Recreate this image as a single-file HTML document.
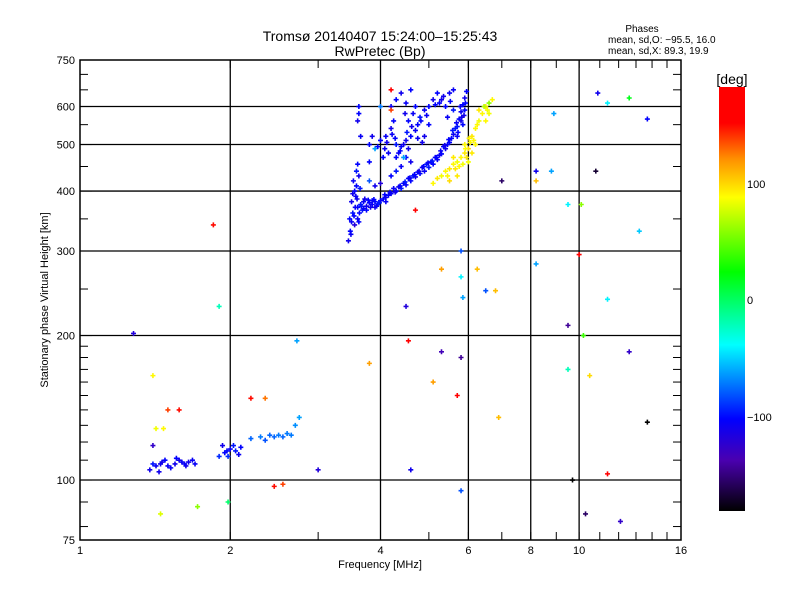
<!DOCTYPE html>
<html><head><meta charset="utf-8"><style>
body{margin:0;background:#fff;}
svg{display:block;font-family:"Liberation Sans",sans-serif;}
</style></head><body>
<svg id="chart" width="800" height="600" viewBox="0 0 800 600">
<defs><linearGradient id="cb" x1="0" y1="0" x2="0" y2="1">
<stop offset="0" stop-color="#ff0000"/><stop offset="0.085" stop-color="#ff0000"/><stop offset="0.17" stop-color="#ff9000"/><stop offset="0.26" stop-color="#ffff00"/><stop offset="0.436" stop-color="#00ff00"/><stop offset="0.608" stop-color="#00ffff"/><stop offset="0.783" stop-color="#0000ff"/><stop offset="0.88" stop-color="#4a00b0"/><stop offset="1" stop-color="#000000"/></linearGradient></defs>
<rect width="800" height="600" fill="#fff"/>
<text x="380" y="41" font-size="14" text-anchor="middle">Tromsø 20140407 15:24:00–15:25:43</text>
<text x="380" y="56" font-size="14" text-anchor="middle">RwPretec (Bp)</text>
<g font-size="10">
<text x="642" y="32" text-anchor="middle">Phases</text>
<text x="608" y="43">mean, sd,O: −95.5, 16.0</text>
<text x="608" y="54">mean, sd,X:  89.3, 19.9</text>
</g>
<g id="grid"></g>
<g id="axes"></g>
<g id="points"></g>
<text x="380" y="568" font-size="11" text-anchor="middle">Frequency [MHz]</text>
<text transform="translate(48,300) rotate(-90)" font-size="11" text-anchor="middle">Stationary phase Virtual Height [km]</text>
<g>
<text x="732" y="84" font-size="14" text-anchor="middle">[deg]</text>
<rect x="719" y="87" width="26" height="424" fill="url(#cb)"/>
<text x="747" y="188" font-size="11">100</text>
<text x="747" y="304" font-size="11">0</text>
<text x="747" y="421" font-size="11">−100</text>
</g>
</svg>
<script>
const xTickVals=[1,2,4,6,8,10,16];
const xTickLabels=["1","2","4","6","8","10","16"];
const xGridVals=[2,4,6,8,10];
const yTickVals=[75,100,200,300,400,500,600,750];
const yGridVals=[100,200,300,400,500,600];
// O-mode main trace (freq MHz, height km)
const oFreq=[3.45,3.48,3.5,3.52,3.5,3.55,3.53,3.58,3.6,3.62,3.57,3.6,3.65,3.7,3.75,3.8,3.85,3.9,3.95,4.0,4.05,4.1,4.15,4.2,4.3,4.4,4.5,4.6,4.7,4.8,4.9,5.0,5.1,5.2,5.3,5.4,5.5,5.6,5.7,5.75,5.8,5.85,5.9,5.95,3.55,3.6,3.63,3.68,3.72,3.58,4.25,4.45,4.65,4.85,5.05,5.25,5.45,5.65,5.8,5.7,5.9,5.85,4.1,3.9,4.55,5.15,5.35,3.8,3.9,4.0,4.2,4.4,4.6,4.5,4.3,3.47,3.52,3.56,3.62,3.66,3.75,3.85,4.35,4.75,4.95,5.55,5.78,5.88,3.49,3.54,3.59,3.64,3.7,3.78,3.82,3.88,3.93,3.98,4.08,4.18,4.28,4.38,4.48,4.58,4.68,4.78,4.88,4.98,5.08,5.18,5.28,5.38,5.48,5.58,5.68,5.72,5.82,5.92];
const oHeight=[315,330,345,360,380,400,420,440,455,430,390,370,375,380,372,378,375,380,376,382,385,388,392,395,400,405,412,420,428,435,440,448,455,465,478,490,505,525,545,565,585,605,625,645,340,350,360,365,385,410,405,415,430,448,460,475,500,540,560,520,590,550,380,370,425,470,495,420,410,415,430,450,460,470,440,350,395,370,345,372,365,382,408,438,455,515,600,575,325,355,385,405,368,383,370,384,372,378,393,398,398,410,418,426,433,440,450,458,462,470,485,498,512,535,555,530,570,610];
const oPhase=[-110,-100,-105,-95,-110,-100,-105,-95,-100,-110,-105,-100,-95,-105,-110,-100,-105,-100,-95,-105,-100,-110,-100,-105,-100,-95,-105,-100,-110,-100,-105,-95,-100,-105,-100,-110,-100,-105,-95,-100,-105,-100,-110,-100,-120,-105,-100,-95,-110,-100,-105,-100,-95,-110,-100,-105,-100,-95,-110,-105,-100,-100,-105,-110,-100,-105,-100,-80,-110,-120,-100,-105,-110,-100,-95,-100,-110,-105,-100,-95,-100,-105,-110,-100,-95,-100,-105,-110,-105,-100,-110,-95,-105,-100,-110,-100,-105,-95,-100,-105,-110,-100,-95,-105,-100,-110,-100,-105,-95,-100,-105,-110,-100,-95,-105,-100,-110,-100];
// Upper F cluster
const uFreq=[3.6,3.62,3.65,3.8,3.85,3.9,4.0,4.1,4.2,4.25,4.3,4.35,4.4,4.5,4.6,4.7,4.75,4.8,4.9,5.0,5.1,5.2,4.2,4.3,4.4,4.6,4.5,4.7,5.3,5.4,5.5,5.6,4.05,4.15,4.45,4.55,4.0,5.6,3.8,4.9,5.0,4.65,3.62,4.45,4.85,5.25,5.45,4.3,4.55,4.75,3.95,4.12,4.22,4.38,4.52,4.62,4.82,4.95,5.15,5.35,5.52,4.08,4.28,4.48];
const uHeight=[560,580,520,500,520,490,510,520,540,560,500,480,495,510,520,535,550,570,590,600,620,640,600,620,640,650,610,600,620,600,640,590,470,480,500,560,600,650,460,520,550,580,600,470,505,610,570,470,490,515,495,505,525,485,530,545,560,575,605,630,615,490,515,580];
const uPhase=[-110,-100,-105,-100,-110,-60,-100,-105,-110,-100,-95,-105,-100,-110,-100,-105,-100,-95,-105,-100,-110,-100,-105,-100,-110,-100,-105,-100,-110,-100,-105,-95,-100,-105,-110,-100,-70,-105,-100,-110,-100,-105,-100,-60,-110,-100,-105,-100,-110,-105,-100,-110,-105,-100,-95,-110,-100,-105,-100,-110,-100,-105,-100,-110];
// X-mode trace (yellow)
const xFreq=[5.1,5.2,5.3,5.4,5.5,5.6,5.7,5.8,5.9,6.0,6.05,6.1,6.2,6.3,6.4,6.5,6.6,6.7,6.3,6.6,6.2,5.7,5.5,6.5,6.0,5.6,5.9,6.1,5.75,5.85,5.95,6.15,6.45,5.45,5.65,5.92,6.02,6.25,6.55];
const xHeight=[415,425,430,440,445,455,460,470,480,490,505,520,540,560,580,600,610,620,590,580,500,430,420,560,460,470,500,480,450,455,470,510,600,430,445,490,515,550,590];
const xPhase=[90,95,85,90,95,90,85,90,95,100,90,95,90,85,90,95,60,90,95,85,90,95,100,90,85,95,90,95,90,85,95,90,70,90,95,88,92,90,85];
// E region traces
const eFreq=[1.38,1.42,1.45,1.5,1.55,1.6,1.65,1.7,1.48,1.58,1.52,1.63,1.4,1.68,1.44,1.56,1.9,1.95,2.0,2.05,2.1,1.93,1.98,2.03,1.97,2.08,2.2,2.3,2.4,2.5,2.55,2.6,2.7,2.75,2.35,2.45,1.46,1.62,2.65];
const eHeight=[105,107,108,107,108,109,109,108,110,110,106,107,108,110,104,111,112,114,116,115,117,118,112,118,115,113,122,123,124,124,123,125,130,135,121,123,109,108,124];
const ePhase=[-110,-105,-110,-105,-110,-105,-110,-105,-100,-110,-105,-110,-95,-105,-110,-100,-90,-100,-105,-95,-100,-110,-90,-95,-100,-105,-75,-70,-75,-70,-75,-70,-65,-60,-80,-75,-110,-105,-70];
// Scattered echoes
const sFreq=[1.4,1.42,1.47,1.5,1.58,1.4,1.72,1.45,1.98,1.85,1.9,1.28,2.2,2.35,2.45,2.55,2.72,3.0,4.6,3.8,4.55,5.3,4.5,4.2,4.7,5.8,5.8,5.7,5.8,5.85,5.8,6.25,6.5,6.8,6.9,5.3,5.1,7.0,8.2,8.2,8.2,8.8,8.9,9.5,9.5,9.7,9.5,10,10.1,10.2,10.3,10.5,10.8,10.9,11.4,11.4,11.4,12.1,12.6,12.6,13.2,13.7,13.7,4.2];
const sHeight=[118,128,128,140,140,165,88,85,90,340,230,202,148,148,97,98,195,105,105,175,195,185,230,650,365,300,265,150,95,240,180,275,248,248,135,275,160,420,440,420,282,440,580,210,375,100,170,295,375,200,85,165,440,640,610,238,103,82,185,625,330,132,565,590];
const sPhase=[-130,85,90,140,150,90,60,80,0,150,-20,-120,150,130,150,140,-60,-120,-110,120,170,-140,-120,160,160,-80,-40,160,-80,-60,-150,110,-80,110,110,120,120,-160,-110,110,-60,-60,-60,-150,-40,-180,-20,170,60,40,-160,100,-170,-110,-40,-40,170,-130,-130,20,-50,-180,-100,140];

const X0=80,X1=681,Y0=540,Y1=60;
const xs=f=>X0+(X1-X0)*Math.log2(f)/4;
const ys=h=>Y0-(Y0-Y1)*Math.log10(h/75);
const NS="http://www.w3.org/2000/svg";
function mk(tag,attrs,parent){const e=document.createElementNS(NS,tag);for(const k in attrs)e.setAttribute(k,attrs[k]);parent.appendChild(e);return e;}
const stops=[[-180,[0,0,0]],[-145,[74,0,176]],[-100,[0,0,255]],[-37,[0,255,255]],[26,[0,255,0]],[88,[255,255,0]],[125,[255,144,0]],[152,[255,0,0]],[190,[255,0,0]]];
function col(d){for(let i=0;i<stops.length-1;i++){const a=stops[i],b=stops[i+1];if(d<=b[0]){const t=Math.max(0,(d-a[0])/(b[0]-a[0]));const c=a[1].map((v,j)=>Math.round(v+(b[1][j]-v)*t));return `rgb(${c[0]},${c[1]},${c[2]})`;}}return "rgb(255,0,0)";}

const grid=document.getElementById('grid'),axes=document.getElementById('axes'),pts=document.getElementById('points');
xGridVals.forEach(v=>{const l=mk('line',{x1:xs(v),x2:xs(v),y1:Y1,y2:Y0,stroke:'#000','stroke-width':1.3},grid);});
yGridVals.forEach(v=>{const l=mk('line',{x1:X0,x2:X1,y1:ys(v),y2:ys(v),stroke:'#000','stroke-width':1.3},grid);});
const fr=mk('rect',{x:X0,y:Y1,width:X1-X0,height:Y0-Y1,fill:'none',stroke:'#000','stroke-width':1.5},axes);

for(let f=1;f<=16;f++){const x=xs(f);mk('line',{x1:x,x2:x,y1:Y0,y2:Y0-8,stroke:'#000'},axes);mk('line',{x1:x,x2:x,y1:Y1,y2:Y1+8,stroke:'#000'},axes);}
const ym=[80,90,110,120,130,140,150,160,170,180,190,250,350,450,550,650,700];
ym.forEach(h=>{const y=ys(h);mk('line',{x1:X0,x2:X0+8,y1:y,y2:y,stroke:'#000'},axes);mk('line',{x1:X1,x2:X1-8,y1:y,y2:y,stroke:'#000'},axes);});
yTickVals.forEach(h=>{const y=ys(h);mk('line',{x1:X0,x2:X0+12,y1:y,y2:y,stroke:'#000'},axes);mk('line',{x1:X1,x2:X1-12,y1:y,y2:y,stroke:'#000'},axes);
 const t=mk('text',{x:X0-5,y:y+4,'font-size':11,'text-anchor':'end'},axes);t.textContent=h;
 });
xTickVals.forEach((v,i)=>{const t=mk('text',{x:xs(v),y:Y0+14,'font-size':11,'text-anchor':'middle'},axes);t.textContent=xTickLabels[i];
 });

function plot(F,H,P,name){for(let i=0;i<F.length;i++){const x=xs(F[i]),y=ys(H[i]),c=col(P[i]);
 const g=mk('path',{d:`M${x-2.5} ${y}h5M${x} ${y-2.5}v5`,stroke:c,'stroke-width':1.6,fill:'none'},pts);
 
 }}
plot(oFreq,oHeight,oPhase,'o-trace-point');
plot(uFreq,uHeight,uPhase,'upper-cluster-point');
plot(xFreq,xHeight,xPhase,'x-trace-point');
plot(eFreq,eHeight,ePhase,'e-region-point');
plot(sFreq,sHeight,sPhase,'scatter-point');
</script>
</body></html>
